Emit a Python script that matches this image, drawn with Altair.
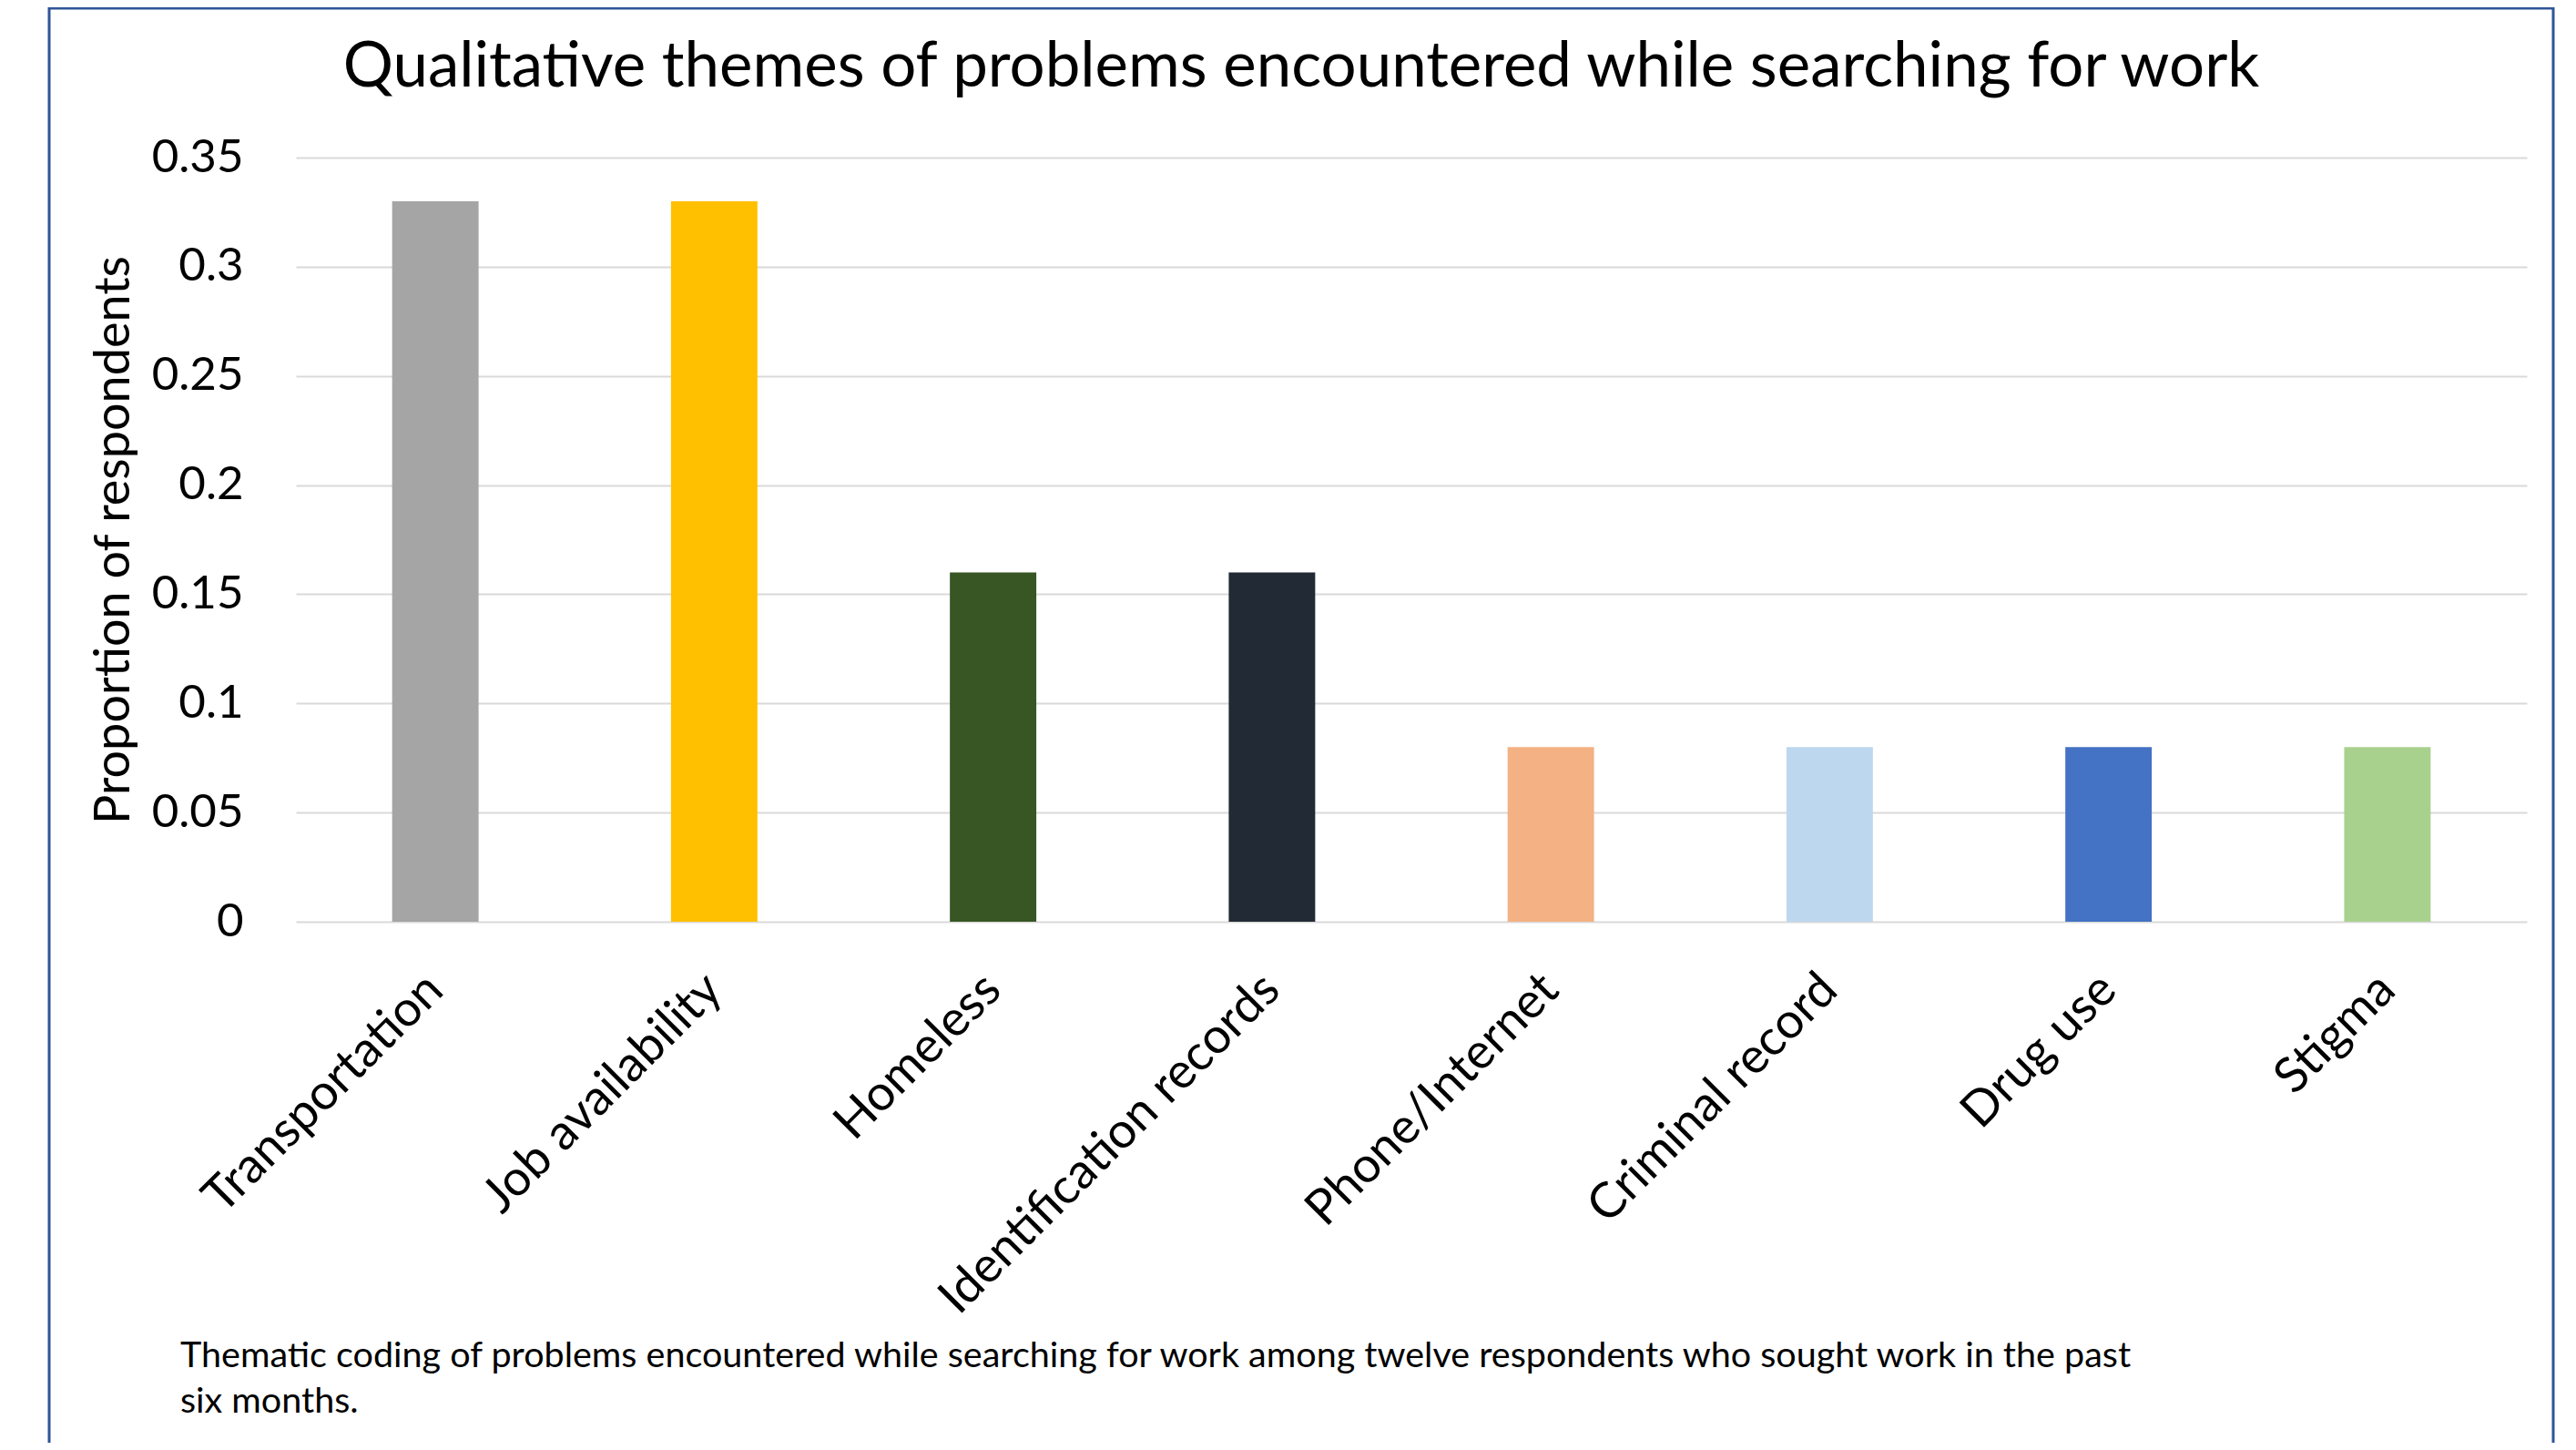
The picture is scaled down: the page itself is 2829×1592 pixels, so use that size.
import altair as alt
import pandas as pd

categories = ["Transportation", "Job availability", "Homeless", "Identification records",
              "Phone/Internet", "Criminal record", "Drug use", "Stigma"]
values = [0.33, 0.33, 0.16, 0.16, 0.08, 0.08, 0.08, 0.08]
colors = ["#A5A5A5", "#FFC000", "#375623", "#222A35", "#F4B183", "#BDD7EE", "#4472C4", "#A9D18E"]
y_ticks = [0, 0.05, 0.1, 0.15, 0.2, 0.25, 0.3, 0.35]

title_text = "Qualitative themes of problems encountered while searching for work"
caption_lines = [
    "Thematic coding of problems encountered  while searching for work among twelve respondents  who sought work in the past",
    "six months.",
]

df = pd.DataFrame({"theme": categories, "value": values})

FONT = "Lato"
W, H = 2450, 839

bars = alt.Chart(df).mark_bar().encode(
    x=alt.X("theme:N", sort=categories,
            scale=alt.Scale(paddingInner=0.69, paddingOuter=0.345),
            axis=alt.Axis(title=None, labelAngle=-45, labelAlign="right", labelBaseline="middle",
                          labelPadding=66, ticks=False, domain=False, grid=False,
                          labelFontSize=54, labelFont=FONT, labelColor="#000000",
                          labelLimit=1000)),
    y=alt.Y("value:Q", scale=alt.Scale(domain=[0, 0.35], nice=False),
            axis=alt.Axis(title="Proportion of respondents", values=y_ticks, format="~g",
                          ticks=False, domain=False, grid=True, gridColor="#D9D9D9", gridWidth=2,
                          labelFontSize=51, labelFont=FONT, labelColor="#000000", labelPadding=58,
                          titleFontSize=54, titleFont=FONT, titleFontWeight="normal",
                          titleColor="#000000", titlePadding=14)),
    color=alt.Color("theme:N", sort=categories,
                    scale=alt.Scale(domain=categories, range=colors), legend=None),
)

frame_df = pd.DataFrame({"k": [1]})
frame = alt.Chart(frame_df).mark_rect(fill=None, stroke="#2F5597", strokeWidth=3).encode(
    x=alt.value(-271), x2=alt.value(2479), y=alt.value(-164), y2=alt.value(1440)
)

title_df = pd.DataFrame({"t": [title_text]})
title = alt.Chart(title_df).mark_text(font=FONT, fontSize=69, color="#000000",
                                      align="center", baseline="alphabetic").encode(
    x=alt.value(1104), y=alt.value(-78), text="t:N"
)

cap_df = pd.DataFrame({"k": [1]})
caption = alt.Chart(cap_df).mark_text(font=FONT, fontSize=39.5, color="#000000",
                                      align="left", baseline="alphabetic", lineHeight=50).encode(
    x=alt.value(-127), y=alt.value(1328), text=alt.value(caption_lines)
)

chart = alt.layer(frame, bars, title, caption).properties(
    width=W, height=H,
    autosize=alt.AutoSizeParams(type="none"),
    padding={"left": 317, "top": 165, "right": 46, "bottom": 572},
).configure_view(strokeWidth=0)

chart.save("out.html", embed_options={"renderer": "svg", "actions": False})
